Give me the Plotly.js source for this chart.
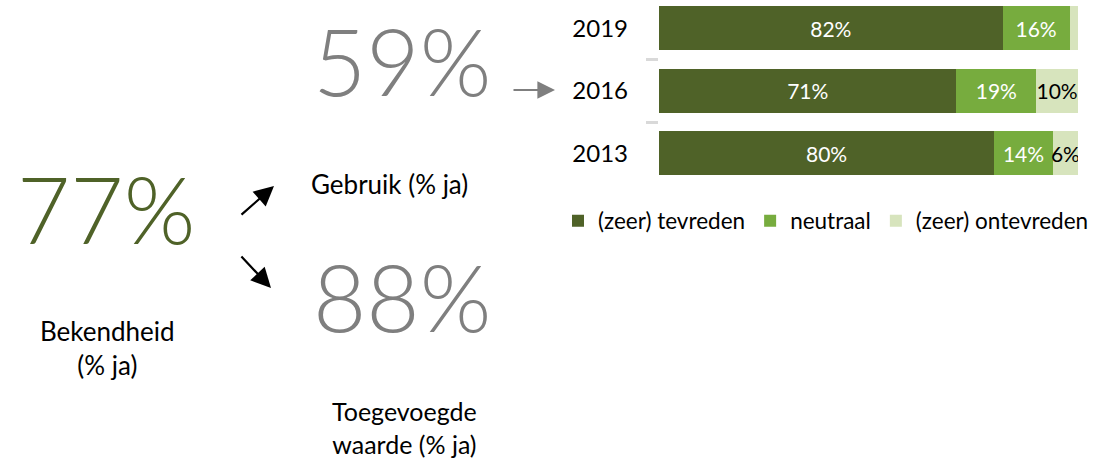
<!DOCTYPE html>
<html>
<head>
<meta charset="utf-8">
<script src="https://cdn.plot.ly/plotly-3.0.1.min.js"></script>
<style>
  html, body { margin: 0; padding: 0; background: #ffffff; }
  #chart { width: 1117px; height: 461px; }
</style>
</head>
<body>
<div id="chart"></div>
<script>
// ---- data ----
const years = ['2019', '2016', '2013'];
const tevreden = [82, 71, 80];
const neutraal = [16, 19, 14];
const ontevreden = [2, 10, 6];
const seriesNames = ['(zeer) tevreden', 'neutraal', '(zeer) ontevreden'];
const seriesColors = ['#4F6228', '#77AC3E', '#D7E4BD'];
const labelColors = ['#ffffff', '#ffffff', '#000000'];

const kpiValues = [77, 59, 88];
const kpiLabels = ['Bekendheid<br>(% ja)', 'Gebruik (% ja)', 'Toegevoegde<br>waarde (% ja)'];
const kpiColors = ['#4F6228', '#7F7F7F', '#7F7F7F'];

const W = 1117, H = 461;
const px = v => v / W;
const py = v => 1 - v / H;

const series = [tevreden, neutraal, ontevreden];
const traces = series.map((vals, i) => ({
  type: 'bar',
  orientation: 'h',
  name: seriesNames[i],
  y: years,
  x: vals,
  text: vals.map(v => (v >= 5 ? v + '%' : '')),
  textposition: 'inside',
  insidetextanchor: 'middle',
  textangle: 0,
  constraintext: 'none',
  insidetextfont: { family: 'Lato, sans-serif', size: 21, color: labelColors[i] },
  marker: { color: seriesColors[i], line: { width: 0 } },
  hoverinfo: 'skip'
}));

const bigFont = (c) => ({ family: 'Lato, sans-serif', size: 92, color: c, weight: 300 });
const txtFont = { family: 'Lato, sans-serif', size: 26, color: '#000000' };

const annotations = [
  // KPI numbers
  { x: px(106), y: py(208), text: kpiValues[0] + '%', font: bigFont(kpiColors[0]) },
  { x: px(402), y: py(60), text: kpiValues[1] + '%', font: bigFont(kpiColors[1]) },
  { x: px(402), y: py(296), text: kpiValues[2] + '%', font: bigFont(kpiColors[2]) },
  // KPI labels
  { x: px(107), y: py(348), text: kpiLabels[0], font: txtFont },
  { x: px(390), y: py(184), text: kpiLabels[1], font: txtFont },
  { x: px(404), y: py(427), text: kpiLabels[2], font: Object.assign({}, txtFont, { size: 25 }) },
].map(a => Object.assign({ xref: 'paper', yref: 'paper', showarrow: false,
  xanchor: 'center', yanchor: 'middle' }, a));

// arrows
const arrows = [
  { x: px(274), y: py(186), ax: -34, ay: 30, arrowcolor: '#000000', arrowsize: 1.8 },
  { x: px(271), y: py(288), ax: -31, ay: -33, arrowcolor: '#000000', arrowsize: 1.8 },
  { x: px(555), y: py(90), ax: -43, ay: 0, arrowcolor: '#7F7F7F', arrowsize: 1.6 },
].map(a => Object.assign({ xref: 'paper', yref: 'paper', text: '', showarrow: true,
  arrowhead: 2, arrowwidth: 2.2 }, a));

const layout = {
  width: W, height: H,
  margin: { l: 0, r: 0, t: 0, b: 0, pad: 0 },
  paper_bgcolor: '#ffffff',
  plot_bgcolor: '#ffffff',
  barmode: 'stack',
  bargap: 0.30,
  showlegend: true,
  legend: {
    orientation: 'h', traceorder: 'normal',
    x: px(558), xanchor: 'left',
    y: py(221), yanchor: 'middle',
    itemwidth: 30,
    font: { family: 'Lato, sans-serif', size: 22.5, color: '#000000' },
    bgcolor: 'rgba(0,0,0,0)'
  },
  xaxis: {
    domain: [px(659), px(1078)],
    range: [0, 100],
    showgrid: false, zeroline: false, showline: false,
    showticklabels: false, ticks: ''
  },
  yaxis: {
    domain: [py(184.5), 1],
    type: 'category',
    range: [2.5, -0.452],
    showgrid: false, zeroline: false, showline: false,
    ticks: 'outside', tickson: 'boundaries', ticklen: 12, tickwidth: 3,
    tickcolor: '#D9D9D9',
    ticklabelstandoff: 30,
    tickfont: { family: 'Lato, sans-serif', size: 24, color: '#000000' }
  },
  annotations: annotations.concat(arrows),
  hovermode: false
};

Plotly.newPlot('chart', traces, layout, { displayModeBar: false, staticPlot: true });
</script>
</body>
</html>
